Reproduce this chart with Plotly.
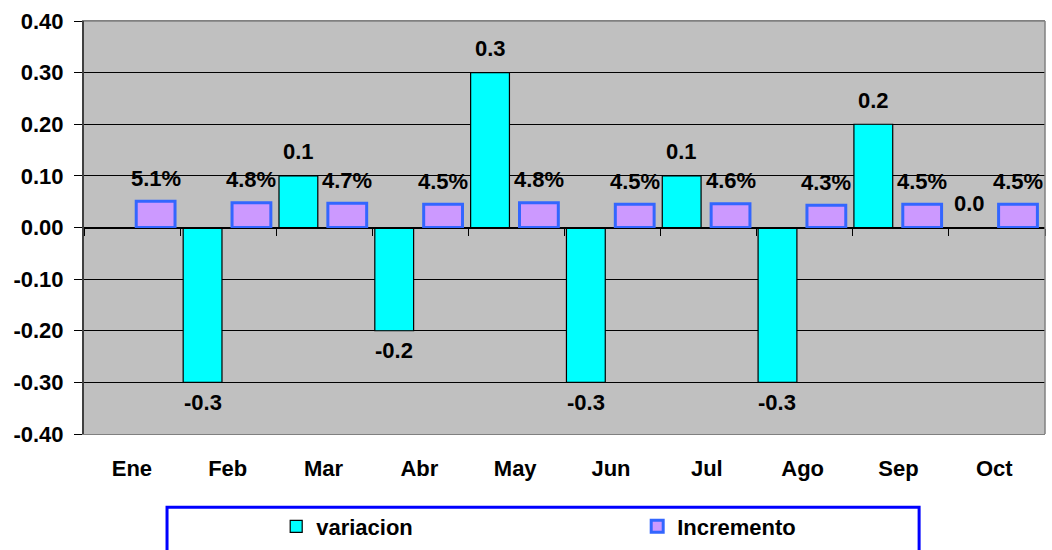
import plotly.graph_objects as go

meses = ["Ene", "Feb", "Mar", "Abr", "May", "Jun", "Jul", "Ago", "Sep", "Oct"]
variacion = [None, -0.3, 0.1, -0.2, 0.3, -0.3, 0.1, -0.3, 0.2, 0.0]
incremento = [0.051, 0.048, 0.047, 0.045, 0.048, 0.045, 0.046, 0.043, 0.045, 0.045]
y_ticks = [0.4, 0.3, 0.2, 0.1, 0.0, -0.1, -0.2, -0.3, -0.4]
y_ticktext = ["0.40", "0.30", "0.20", "0.10", "0.00", "-0.10", "-0.20", "-0.30", "-0.40"]

FONT = "Liberation Sans, Arial, sans-serif"
FS = 22

VAR_OFF, INC_OFF, BW = -0.465, 0.045, 0.405

var_text = ["" if v is None else f"{v:.1f}" for v in variacion]
inc_text = [f"{v*100:.1f}%" for v in incremento]

fig = go.Figure()
fig.add_trace(go.Bar(
    x=meses, y=variacion, name="variacion",
    offset=VAR_OFF, width=BW,
    marker=dict(color="#00FFFF", line=dict(color="#000000", width=1.2)),
    hoverinfo="x+y",
))
fig.add_trace(go.Bar(
    x=meses, y=incremento, name="Incremento",
    offset=INC_OFF, width=BW,
    marker=dict(color="#CC99FF", line=dict(color="#3366FF", width=3)),
    hoverinfo="x+y",
))
# helper trace so the crossing axis at y=0 is drawn
fig.add_trace(go.Scatter(x=[], y=[], xaxis="x2", showlegend=False, hoverinfo="skip"))

annotations = []
for i, (v, t) in enumerate(zip(variacion, var_text)):
    if v is None:
        continue
    annotations.append(dict(
        x=i + VAR_OFF + BW / 2, y=v, xref="x", yref="y", text=t, showarrow=False,
        yanchor="middle", xanchor="center", yshift=24 if v >= 0 else -20,
        font=dict(family=FONT, size=FS, color="#000000", weight="bold"),
    ))
for i, (v, t) in enumerate(zip(incremento, inc_text)):
    annotations.append(dict(
        x=i + INC_OFF + BW / 2, y=v, xref="x", yref="y", text=t, showarrow=False,
        yanchor="middle", xanchor="center", yshift=23,
        font=dict(family=FONT, size=FS, color="#000000", weight="bold"),
    ))

fig.update_layout(
    width=1052, height=550,
    margin=dict(l=84, r=7, t=21, b=116, autoexpand=False),
    paper_bgcolor="#FFFFFF",
    plot_bgcolor="#C0C0C0",
    font=dict(family=FONT, size=FS, color="#000000", weight="bold"),
    showlegend=True,
    annotations=annotations,
    legend=dict(
        orientation="h", x=0.2, xanchor="left", y=-0.224, yanchor="middle",
        entrywidth=316, entrywidthmode="pixels",
        font=dict(family=FONT, size=FS, color="#000000", weight="bold"),
        bgcolor="rgba(0,0,0,0)", borderwidth=0,
    ),
    xaxis=dict(
        type="category", showgrid=False, ticks="", automargin=False,
        showline=True, linecolor="#808080", linewidth=1, mirror=True,
        tickfont=dict(family=FONT, size=FS, color="#000000", weight="bold"),
        ticklabelstandoff=15,
        zeroline=False,
    ),
    xaxis2=dict(
        type="linear", range=[-0.5, 9.5], overlaying="x", anchor="free", position=0.5,
        side="bottom", tick0=-0.5, dtick=1, ticks="outside", ticklen=7, tickcolor="#000000",
        showticklabels=False, showgrid=False, showline=True, linecolor="#000000", linewidth=1,
        zeroline=False, automargin=False,
    ),
    yaxis=dict(
        range=[-0.4, 0.4], tickvals=y_ticks, ticktext=y_ticktext, automargin=False,
        showgrid=True, gridcolor="#000000", gridwidth=1,
        zeroline=False,
        showline=True, linecolor="#404040", linewidth=2,
        ticks="outside", ticklen=8, tickcolor="#000000",
        tickfont=dict(family=FONT, size=FS, color="#000000", weight="bold"),
        ticklabelstandoff=6,
    ),
    shapes=[
        dict(type="line", xref="paper", yref="paper", x0=0, x1=1, y0=1, y1=1,
             line=dict(color="#808080", width=1.5)),
        dict(type="line", xref="paper", yref="paper", x0=1, x1=1, y0=0, y1=1,
             line=dict(color="#808080", width=1.5)),
        dict(type="rect", xref="paper", yref="paper", x0=0.0864, x1=0.869,
             y0=-0.40, y1=-0.1776, line=dict(color="#0000FF", width=3),
             fillcolor="rgba(0,0,0,0)", layer="above"),
    ],
)

fig.write_html("out.html", config={"displayModeBar": False},
               post_script="document.body.style.margin='0px';")
